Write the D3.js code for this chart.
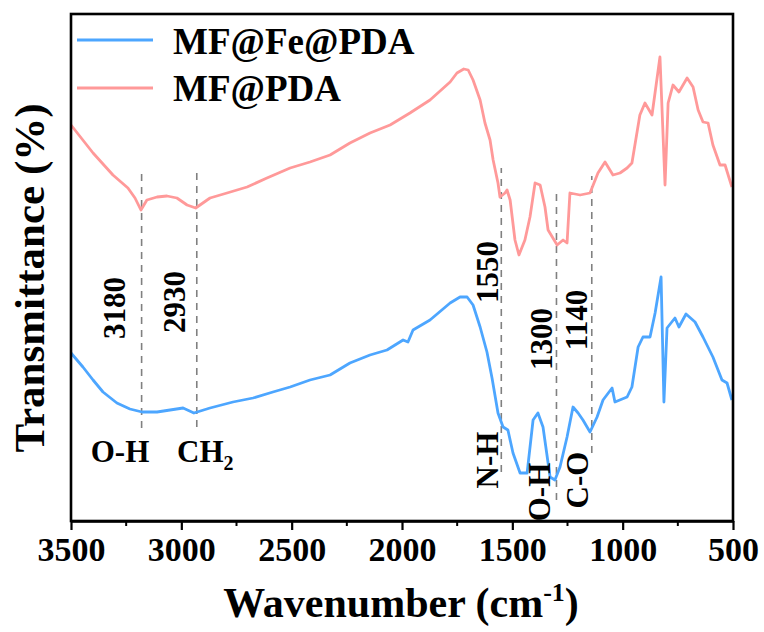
<!DOCTYPE html>
<html><head><meta charset="utf-8">
<script src="https://cdn.jsdelivr.net/npm/d3@7"></script>
<style>
html,body{margin:0;padding:0;background:#fff;}
text{font-family:"Liberation Serif","Times New Roman",serif;font-weight:bold;fill:#000;}
</style></head>
<body>
<svg id="chart" width="764" height="632"></svg>
<script>
// Wavenumber (cm-1) and relative transmittance (arbitrary units)
const pdaWave = [3500,3400,3310,3242,3210,3183,3156,3110,3065,3020,2974,2935,2870,2793,2702,2612,2507,2417,2326,2236,2145,2054,1964,1873,1782,1751,1720,1700,1678,1646,1624,1601,1587,1565,1556,1533,1524,1510,1488,1470,1443,1420,1397,1374,1352,1338,1297,1270,1252,1239,1193,1148,1112,1080,1044,1012,980,958,922,899,867,831,808,794,772,745,708,681,658,636,613,591,559,536,505];
const pdaT    = [396,368,346,333,323,311,321,324,325,323,316,313,323,328,334,343,353,359,366,378,388,396,408,421,439,448,452,451,441,421,398,381,361,338,324,328,331,321,281,266,281,304,338,336,314,291,276,281,278,328,326,328,348,359,346,348,353,358,406,418,406,464,336,418,436,429,443,434,411,399,398,376,356,356,334];

const feWave = [3500,3446,3400,3355,3292,3233,3178,3110,3051,2992,2943,2870,2766,2675,2585,2507,2417,2326,2236,2145,2068,1995,1973,1950,1873,1782,1737,1705,1678,1646,1615,1592,1565,1542,1520,1497,1465,1433,1406,1384,1361,1329,1307,1284,1252,1225,1202,1180,1148,1116,1089,1048,1035,980,958,930,908,876,853,826,813,799,763,745,713,672,636,591,550,527,505];
const feT    = [168,154,141,129,118,112,109,109,111,113,108,113,119,123,129,134,141,146,158,166,171,181,179,191,201,218,224,224,216,194,169,143,108,94,91,68,48,48,101,108,94,44,41,54,84,114,108,101,89,104,121,133,119,124,134,174,184,184,208,244,119,193,203,194,207,199,184,164,141,138,121];

const seriesNames = ["MF@Fe@PDA","MF@PDA"];
const seriesColors = ["#4da6ff","#ff9999"];

const xTicks = [3500,3000,2500,2000,1500,1000,500];
const xMinorTicks = [3250,2750,2250,1750,1250,750];

// annotation dashed lines: wavenumber, lower and upper extent (data units)
const annWave = [3180,2930,1550,1300,1140];
const annLow  = [93,94,49,21,68];
const annHigh = [349,353,353,331,345];

const W = 764, H = 632;
const m = {left:71, right:31, top:14, bottom:111};
const svg = d3.select("#chart");
const x = d3.scaleLinear().domain([3500,500]).range([m.left, W-m.right]);
const y = d3.scaleLinear().domain([0,507]).range([H-m.bottom, m.top]);

// dashed annotation lines
svg.append("g").selectAll("line").data(annWave).join("line")
  .attr("x1",d=>x(d)).attr("x2",d=>x(d))
  .attr("y1",(d,i)=>y(annLow[i])).attr("y2",(d,i)=>y(annHigh[i]))
  .attr("stroke","#808080").attr("stroke-width",1.6).attr("stroke-dasharray","7,6");

// curves
const line = d3.line().x(d=>x(d[0])).y(d=>y(d[1]));
const pdaData = pdaWave.map((w,i)=>[w,pdaT[i]]);
const feData = feWave.map((w,i)=>[w,feT[i]]);
svg.append("path").datum(pdaData).attr("d",line).attr("fill","none")
  .attr("stroke",seriesColors[1]).attr("stroke-width",2.8).attr("stroke-linejoin","round");
svg.append("path").datum(feData).attr("d",line).attr("fill","none")
  .attr("stroke",seriesColors[0]).attr("stroke-width",2.8).attr("stroke-linejoin","round");

// frame
svg.append("rect").attr("x",m.left).attr("y",m.top)
  .attr("width",W-m.left-m.right).attr("height",H-m.top-m.bottom)
  .attr("fill","none").attr("stroke","#000").attr("stroke-width",2.6);

// bottom axis
const ax = svg.append("g").attr("transform",`translate(0,${H-m.bottom})`)
  .call(d3.axisBottom(x).tickValues(xTicks).tickFormat(d3.format("d")).tickSize(9).tickPadding(7).tickSizeOuter(0));
ax.select(".domain").attr("stroke-width",2.6);
ax.selectAll(".tick line").attr("stroke-width",2.2);
ax.selectAll(".tick text").style("font-size","34px").style("font-family","'Liberation Serif',serif").style("font-weight","bold");
svg.append("g").attr("transform",`translate(0,${H-m.bottom})`)
  .selectAll("line").data(xMinorTicks).join("line")
  .attr("x1",d=>x(d)).attr("x2",d=>x(d)).attr("y1",0).attr("y2",5)
  .attr("stroke","#000").attr("stroke-width",2);

// axis titles
const xt = svg.append("text").attr("x",401).attr("y",617).attr("text-anchor","middle").style("font-size","42px");
xt.append("tspan").text("Wavenumber (cm");
xt.append("tspan").attr("dy",-16).style("font-size","26px").text("-1");
xt.append("tspan").attr("dy",16).text(")");
svg.append("text").attr("transform","translate(44,278) rotate(-90)").attr("text-anchor","middle")
  .style("font-size","43px").text("Transmittance (%)");

// legend
const leg = svg.append("g");
[0,1].forEach(i=>{
  leg.append("line").attr("x1",77).attr("x2",153).attr("y1",40+i*48).attr("y2",40+i*48)
    .attr("stroke",seriesColors[i]).attr("stroke-width",3);
  leg.append("text").attr("x",173).attr("y",54+i*47).style("font-size","37px").text(seriesNames[i]);
});

// rotated number labels
const rotLabels = [["3180",125,308],["2930",185,302],["1550",498,272],["1300",552,339],["1140",587,320],["N-H",498,460],["O-H",550,492],["C-O",588,480]];
svg.append("g").selectAll("text").data(rotLabels).join("text")
  .attr("transform",d=>`translate(${d[1]},${d[2]}) rotate(-90)`)
  .attr("text-anchor","middle").style("font-size","31px").text(d=>d[0]);

// horizontal labels
svg.append("text").attr("x",120).attr("y",462).attr("text-anchor","middle").style("font-size","31px").text("O-H");
const ch = svg.append("text").attr("x",177).attr("y",462).style("font-size","31px");
ch.append("tspan").text("CH");
ch.append("tspan").attr("dy",8).style("font-size","20px").text("2");
</script>
</body></html>
